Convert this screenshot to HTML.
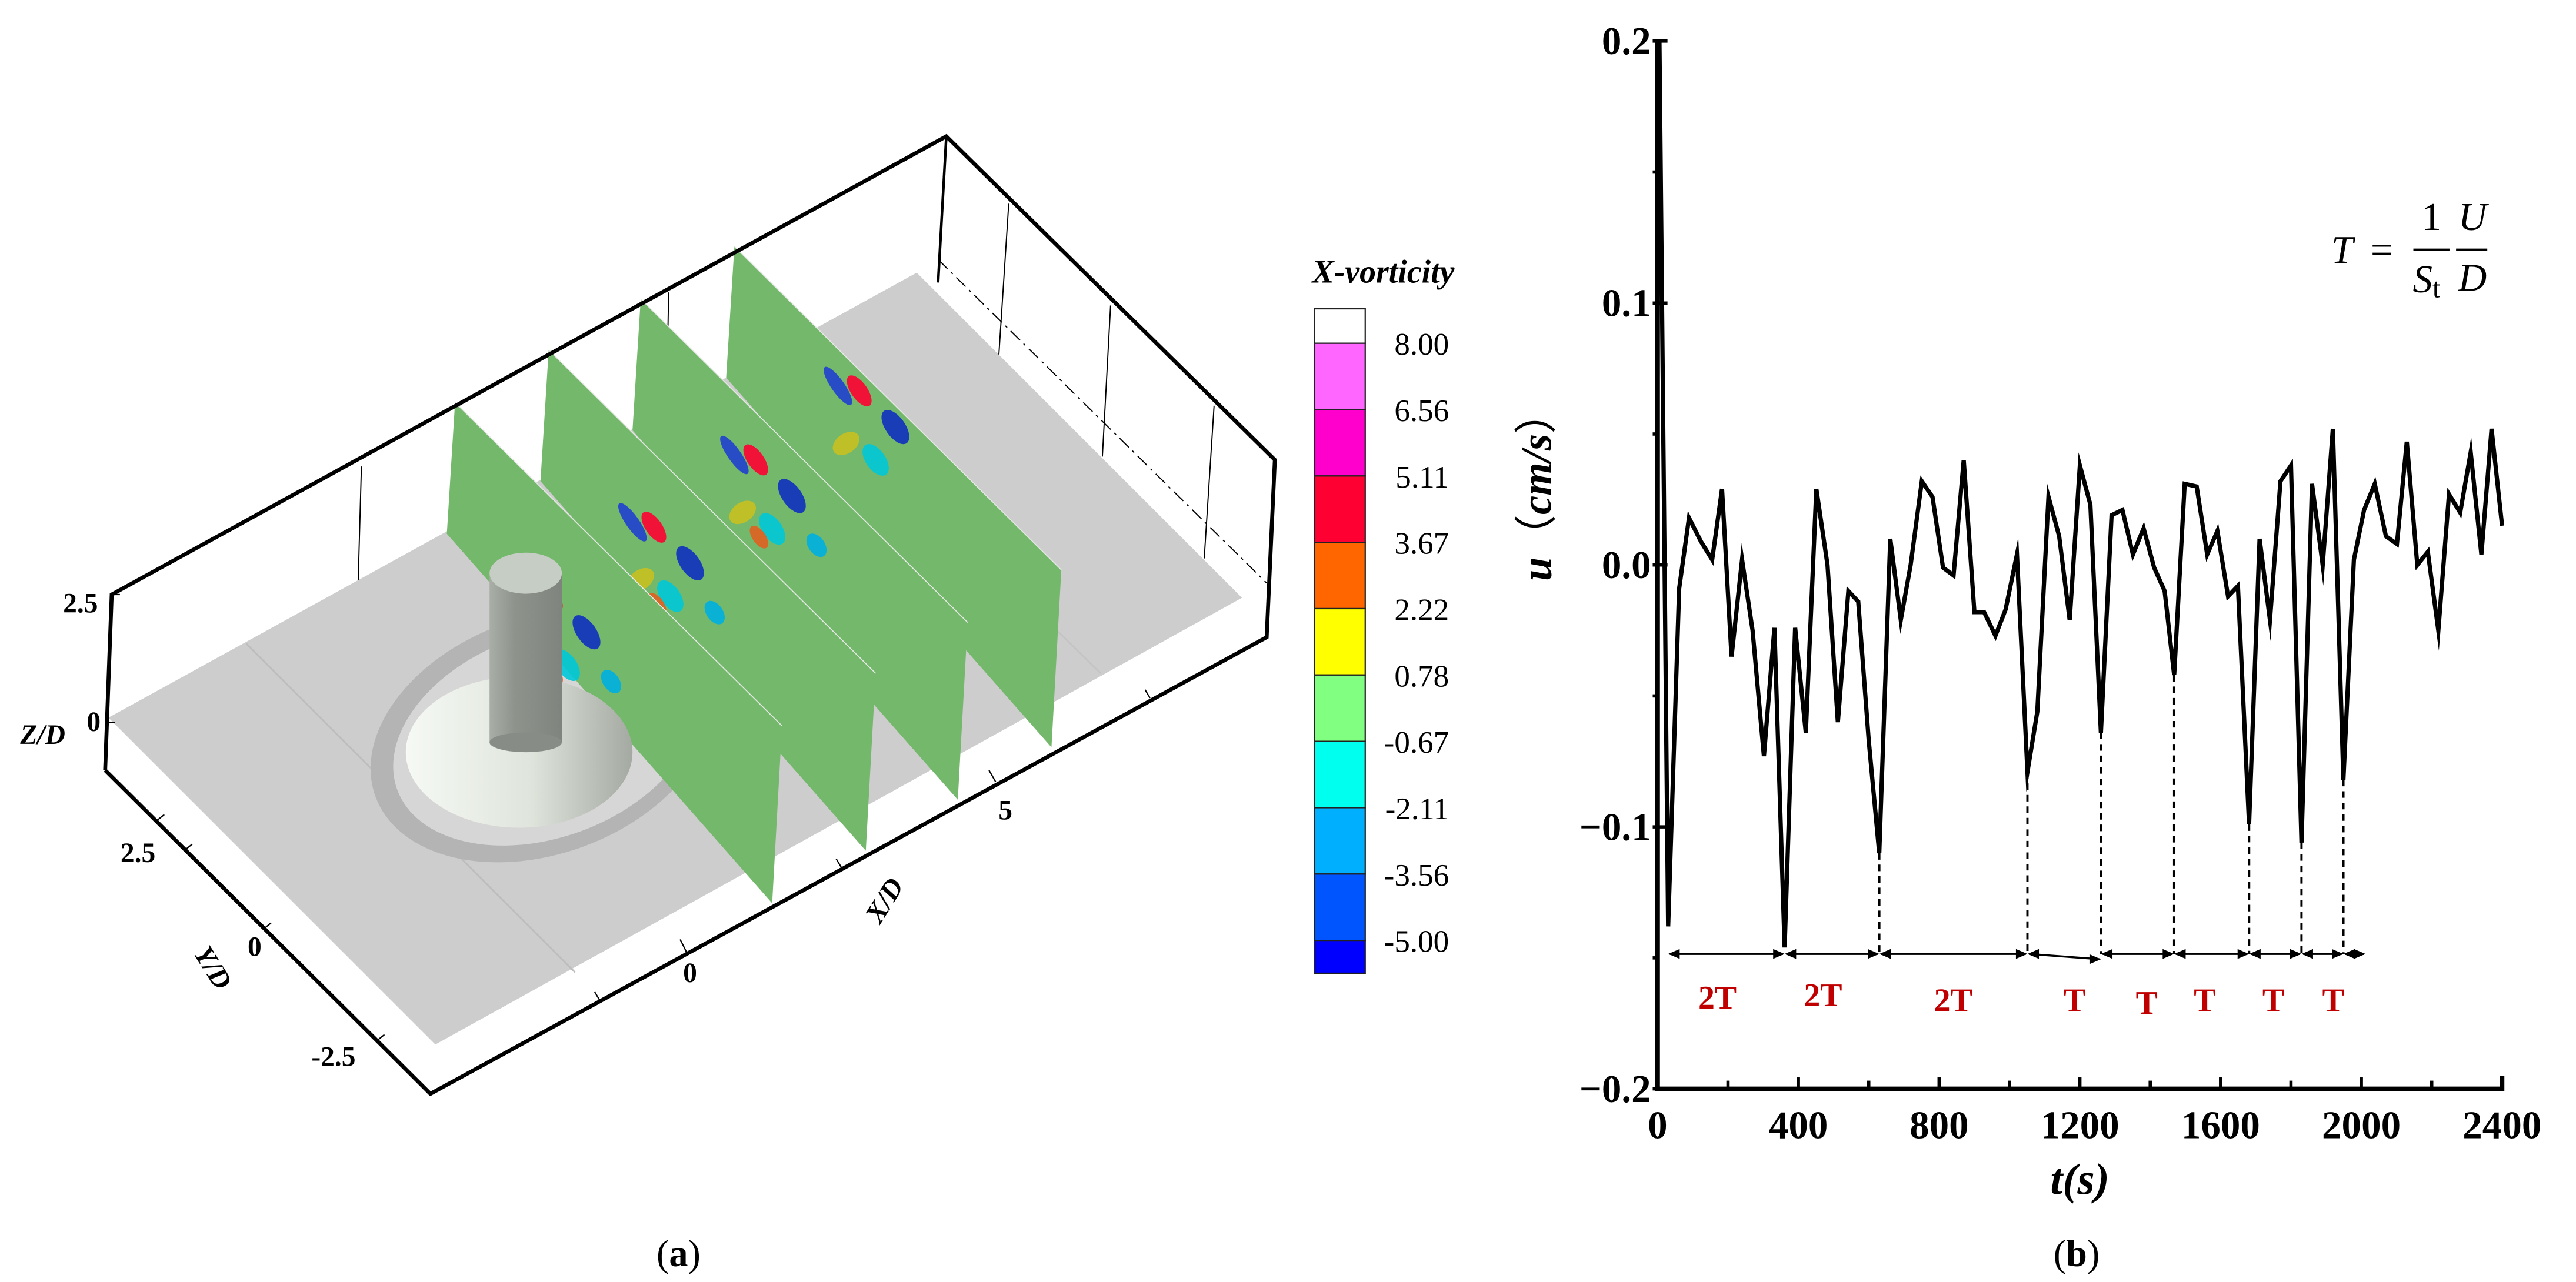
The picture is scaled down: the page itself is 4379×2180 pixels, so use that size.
<!DOCTYPE html>
<html><head><meta charset="utf-8"><style>
html,body{margin:0;padding:0;background:#fff;}
svg{display:block;}
text{font-family:"Liberation Serif",serif;}
</style></head>
<body>
<svg id="fig" width="4379" height="2180" viewBox="0 0 1568 780.6" xmlns="http://www.w3.org/2000/svg">
<defs>
  <linearGradient id="coneGrad" x1="0" y1="0" x2="1" y2="0">
    <stop offset="0" stop-color="#f6f9f4"/><stop offset="0.55" stop-color="#dfe5dc"/><stop offset="1" stop-color="#a4aaa2"/>
  </linearGradient>
  <linearGradient id="cylGrad" x1="0" y1="0" x2="1" y2="0">
    <stop offset="0" stop-color="#a9aea7"/><stop offset="0.35" stop-color="#8e938c"/><stop offset="1" stop-color="#7f847e"/>
  </linearGradient>
</defs>
<rect x="0" y="0" width="1568" height="781" fill="#fff"/>
<g id="panelA">
  <g stroke="#000" stroke-width="0.7" fill="none">
    <line x1="220" y1="284" x2="218" y2="355"/>
    <line x1="407" y1="178" x2="406" y2="230"/>
    <line x1="614" y1="124" x2="608" y2="216"/>
    <line x1="676" y1="186" x2="671" y2="278"/>
    <line x1="739" y1="247" x2="733" y2="340"/>
    <line x1="571" y1="158" x2="771" y2="355" stroke-dasharray="8,3,1.5,3"/>
  </g>
  <polygon points="66,437 558,166 756,364 265,636" fill="#cdcdcd"/>
  <line x1="150" y1="392" x2="350" y2="592" stroke="#bdbdbd" stroke-width="1"/>
  <line x1="470" y1="214" x2="670" y2="410" stroke="#c4c4c4" stroke-width="1"/>
  <ellipse cx="330" cy="448" rx="108" ry="72" transform="rotate(-20 330 448)" fill="#b4b4b4"/>
  <ellipse cx="332" cy="448" rx="96" ry="62" transform="rotate(-20 332 448)" fill="#d6d6d6"/>
  <g id="planes"></g>
  <ellipse cx="316" cy="458" rx="69" ry="46" fill="url(#coneGrad)"/>
  <rect x="298" y="349" width="44" height="103" fill="url(#cylGrad)"/>
  <ellipse cx="320" cy="452" rx="22" ry="6" fill="#878c86"/>
  <ellipse cx="320" cy="349" rx="22" ry="12.5" fill="#c6cdc4"/>
  <g stroke="#000" stroke-width="2.4" fill="none" stroke-linejoin="miter">
    <polyline points="64,469 68,362 576,83 776,280 771,388 262,666 64,469"/>
    <line x1="576" y1="83" x2="571" y2="172" stroke-width="1.6"/>
  </g>
  <g stroke="#000" stroke-width="0.8">
    <line x1="68" y1="362" x2="73" y2="362"/><line x1="65" y1="440" x2="70" y2="440"/>
    <line x1="95" y1="500" x2="100" y2="496"/><line x1="112" y1="518" x2="117" y2="514"/>
    <line x1="160" y1="566" x2="165" y2="562"/><line x1="229" y1="634" x2="234" y2="630"/>
    <line x1="418" y1="580" x2="414" y2="572"/><line x1="606" y1="476" x2="602" y2="469"/>
    <line x1="365" y1="609" x2="362" y2="604"/><line x1="512" y1="528" x2="509" y2="523"/>
    <line x1="700" y1="425" x2="697" y2="420"/>
  </g>
  <g font-weight="bold" font-size="17" fill="#000">
    <text x="49" y="373" text-anchor="middle">2.5</text>
    <text x="57" y="445" text-anchor="middle">0</text>
    <text x="26" y="453" text-anchor="middle" font-style="italic">Z/D</text>
    <text x="84" y="525" text-anchor="middle">2.5</text>
    <text x="155" y="582" text-anchor="middle">0</text>
    <text x="203" y="649" text-anchor="middle">-2.5</text>
    <text x="130" y="595" text-anchor="middle" font-style="italic" transform="rotate(58 130 589)">Y/D</text>
    <text x="420" y="598" text-anchor="middle">0</text>
    <text x="612" y="499" text-anchor="middle">5</text>
    <text x="538" y="554" text-anchor="middle" font-style="italic" transform="rotate(-58 538 548)">X/D</text>
  </g>
  <text x="842" y="172" text-anchor="middle" font-size="20" font-weight="bold" font-style="italic">X-vorticity</text>
  <g id="cbar"></g>
  <text x="413" y="771" text-anchor="middle" font-size="23">(<tspan font-weight="bold">a</tspan>)</text>
</g>

<g id="panelB">
  <g id="chartB"></g>
  <text x="0" y="0" font-size="26" font-weight="bold" font-style="italic" text-anchor="middle" transform="translate(944 296) rotate(-90)">u<tspan font-style="normal" font-weight="normal">（</tspan>cm/s<tspan font-style="normal" font-weight="normal">）</tspan></text>
  <text x="1266" y="727" font-size="27" font-weight="bold" font-style="italic" text-anchor="middle">t(s)</text>
  <text x="1264" y="771" text-anchor="middle" font-size="23">(<tspan font-weight="bold">b</tspan>)</text>
  <g font-size="24" font-family="Liberation Serif">
    <text x="1419" y="160" font-style="italic">T</text>
    <text x="1443" y="160">=</text>
    <text x="1480" y="140" text-anchor="middle">1</text>
    <line x1="1469" y1="152" x2="1491" y2="152" stroke="#000" stroke-width="1.3"/>
    <text x="1477" y="178" text-anchor="middle" font-style="italic">S<tspan font-style="normal" font-size="17" dy="3">t</tspan></text>
    <text x="1505" y="140" text-anchor="middle" font-style="italic">U</text>
    <line x1="1495" y1="152" x2="1514" y2="152" stroke="#000" stroke-width="1.3"/>
    <text x="1505" y="177" text-anchor="middle" font-style="italic">D</text>
  </g>
</g>
</svg>
<script>
const times = [5,30,61,89,123,155,183,210,240,270,302,332,361,391,421,451,483,512,542,570,600,630,661,691,719,751,781,811,841,870,900,928,960,989,1021,1051,1079,1111,1141,1171,1200,1230,1260,1290,1321,1351,1381,1411,1441,1468,1498,1532,1562,1591,1621,1649,1681,1711,1740,1770,1800,1830,1860,1890,1919,1949,1979,2008,2038,2070,2101,2129,2159,2189,2219,2249,2281,2311,2341,2370,2400];
const velocity = [0.2,-0.138,-0.009,0.018,0.009,0.002,0.029,-0.035,0.002,-0.025,-0.073,-0.024,-0.146,-0.024,-0.064,0.029,0.0,-0.06,-0.01,-0.014,-0.067,-0.11,0.01,-0.021,0.0,0.032,0.026,-0.001,-0.004,0.04,-0.018,-0.018,-0.027,-0.017,0.004,-0.079,-0.056,0.026,0.011,-0.021,0.038,0.023,-0.064,0.019,0.021,0.004,0.014,-0.001,-0.01,-0.042,0.031,0.030,0.004,0.013,-0.012,-0.008,-0.099,0.01,-0.021,0.032,0.038,-0.106,0.031,0.0,0.052,-0.082,0.002,0.021,0.031,0.011,0.008,0.047,0.0,0.005,-0.025,0.027,0.02,0.043,0.004,0.052,0.015];
const xTicks = [0,400,800,1200,1600,2000,2400];
const xTickLabels = ["0","400","800","1200","1600","2000","2400"];
const yTicks = [0.2,0.1,0.0,-0.1,-0.2];
const yTickLabels = ["0.2","0.1","0.0","\u22120.1","\u22120.2"];
const markTimes = [630,1051,1260,1468,1681,1830,1949];
const markValues = [-0.11,-0.079,-0.064,-0.042,-0.099,-0.106,-0.082];
const spanStarts = [30,361,630,1051,1260,1468,1681,1830,1949];
const spanEnds = [361,630,1051,1260,1468,1681,1830,1949,2012];
const spanLabels = ["2T","2T","2T","T","T","T","T","T"];
const spanLabelTimes = [170,470,840,1185,1390,1555,1750,1920];
const spanLabelY = [-0.165,-0.164,-0.166,-0.166,-0.167,-0.166,-0.166,-0.166];
const arrowLevel = -0.1485;

const cbColors = ["#ffffff","#ff66ff","#ff00cc","#ff0033","#ff6600","#ffff00","#80ff80","#00ffee","#00b0ff","#0055ff","#0000ff"];
const cbLabels = ["8.00","6.56","5.11","3.67","2.22","0.78","-0.67","-2.11","-3.56","-5.00"];

const NS="http://www.w3.org/2000/svg";
function mk(tag, attrs, parent){const e=document.createElementNS(NS,tag);for(const k in attrs)e.setAttribute(k,attrs[k]);parent.appendChild(e);return e;}

const X0=1009, X1=1523, Y0=663, Y1=25;
function sx(t){return X0+(t-0)/(2400-0)*(X1-X0);}
function sy(v){return Y0-(v-(-0.2))/(0.4)*(Y0-Y1);}

const g=document.getElementById('chartB');
markTimes.forEach((t,i)=>{
  const l=mk('line',{x1:sx(t),y1:sy(markValues[i]),x2:sx(t),y2:sy(arrowLevel),stroke:'#000','stroke-width':1.4,'stroke-dasharray':'4,3'},g);
  
  
});
spanStarts.forEach((s,i)=>{
  const e=spanEnds[i];
  const y1=sy(arrowLevel), y2=(i===3)?sy(arrowLevel-0.002):sy(arrowLevel);
  const l=mk('line',{x1:sx(s)+1,y1:y1,x2:sx(e)-1,y2:y2,stroke:'#000','stroke-width':1.2},g);
  
  
  const a1=mk('path',{d:`M${sx(s)},${y1} l7,-3 l0,6 z`,fill:'#000'},g);
  
  
  const a2=mk('path',{d:`M${sx(e)},${y2} l-7,-3 l0,6 z`,fill:'#000'},g);
  
  
});
spanLabels.forEach((lab,i)=>{
  const t=mk('text',{x:sx(spanLabelTimes[i]),y:sy(spanLabelY[i])+7,'text-anchor':'middle','font-size':20,'font-weight':'bold',fill:'#c00000'},g);
  t.textContent=lab;
  
  
});
const pts=times.map((t,i)=>sx(t).toFixed(1)+','+sy(velocity[i]).toFixed(1)).join(' ');
const line=mk('polyline',{points:pts,fill:'none',stroke:'#000','stroke-width':2.6,'stroke-linejoin':'miter','stroke-miterlimit':10},g);


const ax=mk('path',{d:`M${X0},${Y1} L${X0},${Y0} L${X1},${Y0} L${X1},${Y0-8}`,fill:'none',stroke:'#000','stroke-width':2.8},g);


xTicks.forEach((v,i)=>{
  const tk=mk('line',{x1:sx(v),y1:Y0,x2:sx(v),y2:Y0-7,stroke:'#000','stroke-width':2},g);
  
  
  if(i<xTicks.length-1){
    const m=mk('line',{x1:sx(v+200),y1:Y0,x2:sx(v+200),y2:Y0-5,stroke:'#000','stroke-width':2},g);
    
    
  }
  const t=mk('text',{x:sx(v),y:Y0+30,'text-anchor':'middle','font-size':24,'font-weight':'bold'},g);
  t.textContent=xTickLabels[i];
  
  
});
yTicks.forEach((v,i)=>{
  const tk=mk('line',{x1:X0-3,y1:sy(v),x2:X0+6,y2:sy(v),stroke:'#000','stroke-width':2},g);
  
  
  if(i<yTicks.length-1){
    const m=mk('line',{x1:X0-3,y1:sy(v-0.05),x2:X0,y2:sy(v-0.05),stroke:'#000','stroke-width':2},g);
    
    
  }
  const t=mk('text',{x:X0-4,y:sy(v)+8,'text-anchor':'end','font-size':24,'font-weight':'bold'},g);
  t.textContent=yTickLabels[i];
  
  
});

const cb=document.getElementById('cbar');
const CBX=800, CBW=31, CBTOP=188, FIRST=21, STEP=40.4;
cbColors.forEach((c,i)=>{
  let y,h;
  if(i===0){y=CBTOP;h=FIRST;}
  else{y=CBTOP+FIRST+(i-1)*STEP;h=(i===cbColors.length-1)?20:STEP;}
  const r=mk('rect',{x:CBX,y:y,width:CBW,height:h,fill:c,stroke:'#222','stroke-width':0.8},cb);
  
  
});
cbLabels.forEach((l,i)=>{
  const t=mk('text',{x:882,y:CBTOP+FIRST+i*STEP+7,'text-anchor':'end','font-size':19},cb);
  t.textContent=l;
  
  
});

const planeX=[277,334,390,447];
const planeY=[245,213,182,150];
const pg=document.getElementById('planes');
const blobs=[[45,115,'#2040d0',4,14],[58,118,'#ff0033',5,11],[50,150,'#c8c020',9,6],[68,160,'#00c8d8',6,11],[80,140,'#1030c0',6,12],[60,165,'#e06020',4,8],[95,170,'#00b0e0',5,8],[40,170,'#c8c020',5,8]];
for(let k=planeX.length-1;k>=0;k--){
  const x=planeX[k], y=planeY[k];
  const p=mk('polygon',{points:`${x},${y} ${x+199},${y+197} ${x+193},${y+305} ${x-5},${y+80}`,fill:'#74b86b'},pg);
  
  
  mk('line',{x1:x,y1:y,x2:x+199,y2:y+197,stroke:'#e8e8e8','stroke-width':0.6},pg);
  blobs.forEach((b,j)=>{
    if(k===3 && j>4) return;
    const cx=x+b[0]+k*6, cy=y+b[1]-k*10;
    const e=mk('ellipse',{cx:cx,cy:cy,rx:b[3],ry:b[4],fill:b[2],transform:`rotate(-35 ${cx} ${cy})`,opacity:0.9},pg);
    
    
  });
}
</script>
</body></html>
